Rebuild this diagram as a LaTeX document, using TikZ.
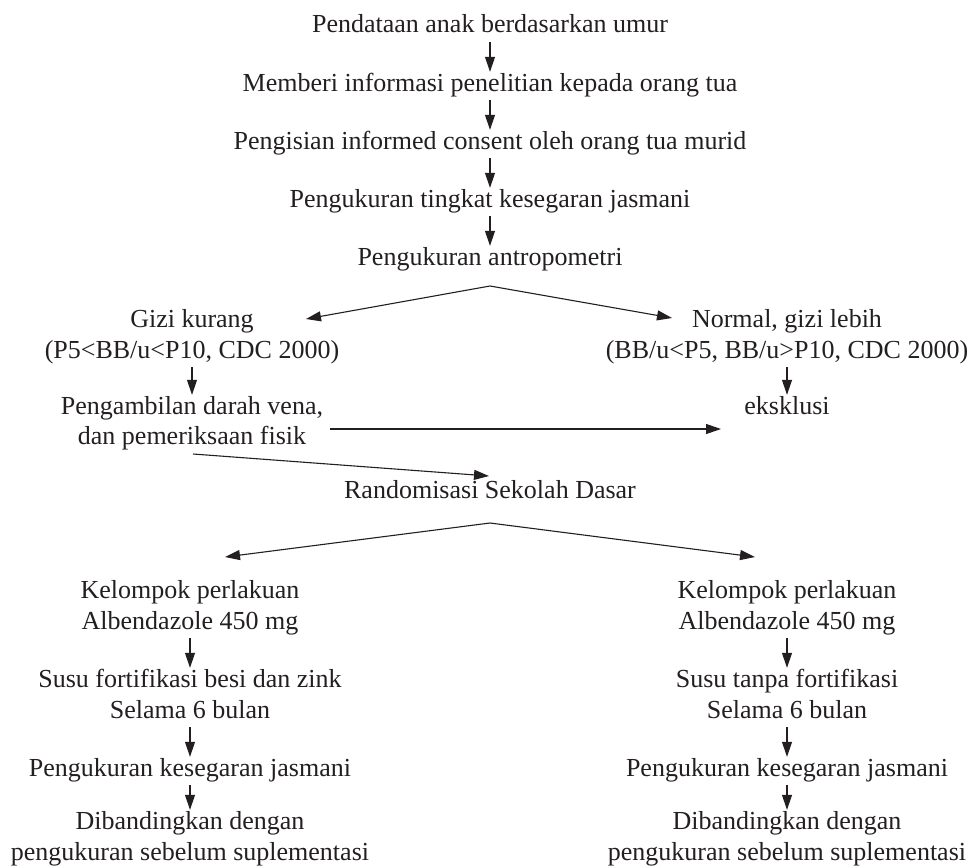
\documentclass[tikz,border=0pt]{standalone}
\usepackage{fontspec}
\setmainfont{Liberation Serif}
\usetikzlibrary{arrows.meta}
\definecolor{ink}{HTML}{231F20}
\begin{document}
\begin{tikzpicture}[x=1pt,y=-1pt,
  txt/.style={font=\fontsize{26}{31}\selectfont, inner sep=0pt, text height=19pt, text depth=9pt, anchor=base, text=ink},
  arr/.style={line width=1.1pt, draw=ink, -{Triangle[length=15pt,width=10pt]}}]
\useasboundingbox (0,0) rectangle (974,867);
% top chain
\node[txt] (t1) at (490,33) {Pendataan anak berdasarkan umur};
\node[txt] (t2) at (490,91) {Memberi informasi penelitian kepada orang tua};
\node[txt] (t3) at (490,149) {Pengisian informed consent oleh orang tua murid};
\node[txt] (t4) at (490,207) {Pengukuran tingkat kesegaran jasmani};
\node[txt] (t5) at (490,265) {Pengukuran antropometri};
\draw[arr] (t1.south) -- (t2.north);
\draw[arr] (t2.south) -- (t3.north);
\draw[arr] (t3.south) -- (t4.north);
\draw[arr] (t4.south) -- (t5.north);
% first branch
\coordinate (ap1) at (490,286);
\coordinate (tipG) at (306,319);
\coordinate (tipN) at (672,318);
\draw[arr] (ap1) -- (tipG);
\draw[arr] (ap1) -- (tipN);
\node[txt] (g1) at (192,327) {Gizi kurang};
\node[txt] (g2) at (192,358) {(P5<BB/u<P10, CDC 2000)};
\node[txt] (n1) at (787,327) {Normal, gizi lebih};
\node[txt] (n2) at (787,358) {(BB/u<P5, BB/u>P10, CDC 2000)};
\node[txt] (p1) at (192,414) {Pengambilan darah vena,};
\node[txt] (p2) at (192,444) {dan pemeriksaan fisik};
\node[txt] (ek) at (787,414) {eksklusi};
\draw[arr] (g2.south) -- (p1.north);
\draw[arr] (n2.south) -- (ek.north);
\coordinate (hs) at (330,429);
\coordinate (he) at (721,429);
\draw[arr] (hs) -- (he);
\coordinate (ds) at (193,454);
\coordinate (de) at (489,476);
\draw[arr] (ds) -- (de);
\node[txt] (r) at (490,498) {Randomisasi Sekolah Dasar};
% second branch
\coordinate (ap2) at (490,523);
\coordinate (tipL) at (225,557);
\coordinate (tipR) at (755,557);
\draw[arr] (ap2) -- (tipL);
\draw[arr] (ap2) -- (tipR);
% left column
\node[txt] (kL) at (190,598) {Kelompok perlakuan};
\node[txt] (aL) at (190,629) {Albendazole 450 mg};
\node[txt] (sL) at (190,687) {Susu fortifikasi besi dan zink};
\node[txt] (bL) at (190,718) {Selama 6 bulan};
\node[txt] (uL) at (190,776) {Pengukuran kesegaran jasmani};
\node[txt] (dL) at (190,829) {Dibandingkan dengan};
\node[txt] (eL) at (190,860) {pengukuran sebelum suplementasi};
\draw[arr] (aL.south) -- (sL.north);
\draw[arr] (bL.south) -- (uL.north);
\draw[arr] (uL.south) -- (dL.north);
% right column
\node[txt] (kR) at (787,598) {Kelompok perlakuan};
\node[txt] (aR) at (787,629) {Albendazole 450 mg};
\node[txt] (sR) at (787,687) {Susu tanpa fortifikasi};
\node[txt] (bR) at (787,718) {Selama 6 bulan};
\node[txt] (uR) at (787,776) {Pengukuran kesegaran jasmani};
\node[txt] (dR) at (787,829) {Dibandingkan dengan};
\node[txt] (eR) at (787,860) {pengukuran sebelum suplementasi};
\draw[arr] (aR.south) -- (sR.north);
\draw[arr] (bR.south) -- (uR.north);
\draw[arr] (uR.south) -- (dR.north);
\end{tikzpicture}
\end{document}
